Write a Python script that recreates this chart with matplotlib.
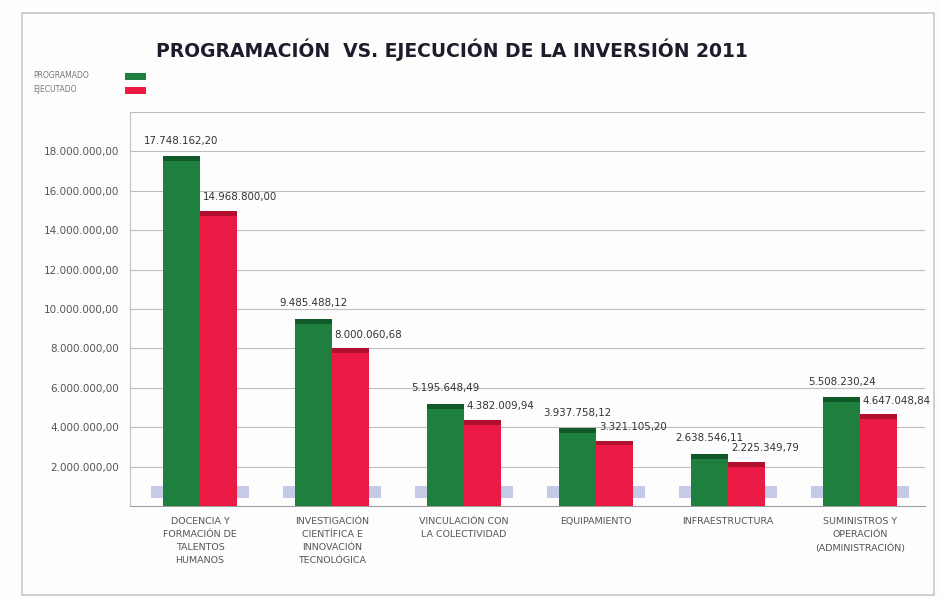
import matplotlib
matplotlib.use("Agg")
import matplotlib.pyplot as plt
from matplotlib.patches import Rectangle
import numpy as np

categories = ["DOCENCIA Y\nFORMACIÓN DE\nTALENTOS\nHUMANOS",
              "INVESTIGACIÓN\nCIENTÍFICA E\nINNOVACIÓN\nTECNOLÓGICA",
              "VINCULACIÓN CON\nLA COLECTIVIDAD",
              "EQUIPAMIENTO",
              "INFRAESTRUCTURA",
              "SUMINISTROS Y\nOPERACIÓN\n(ADMINISTRACIÓN)"]
programado = [17748162.20, 9485488.12, 5195648.49, 3937758.12, 2638546.11, 5508230.24]
ejecutado = [14968800.00, 8000060.68, 4382009.94, 3321105.20, 2225349.79, 4647048.84]
prog_labels = ["17.748.162,20", "9.485.488,12", "5.195.648,49", "3.937.758,12", "2.638.546,11", "5.508.230,24"]
ejec_labels = ["14.968.800,00", "8.000.060,68", "4.382.009,94", "3.321.105,20", "2.225.349,79", "4.647.048,84"]
yticks = [2e6, 4e6, 6e6, 8e6, 10e6, 12e6, 14e6, 16e6, 18e6]
ytick_labels = ["2.000.000,00", "4.000.000,00", "6.000.000,00", "8.000.000,00", "10.000.000,00",
                "12.000.000,00", "14.000.000,00", "16.000.000,00", "18.000.000,00"]

green = "#1e7f3e"
green_top = "#0f5a28"
red = "#ea1a44"
red_top = "#b0102e"

fig = plt.figure(figsize=(9.41, 5.99), dpi=100)
fig.patch.set_facecolor("#fdfdfd")
fig.patches.append(Rectangle((22/941, 4/599), 912/941, 582/599, transform=fig.transFigure,
                             fill=False, edgecolor="#c8c8c8", lw=1.2))

ax = fig.add_axes([130/941, 93/599, 795/941, 394/599])
ax.set_facecolor("#fdfdfd")
x = np.arange(len(categories))
w = 0.28

# floor
ax.bar(x, [-0.6e6]*len(x), width=0.74, bottom=1.0e6, color="#c5cbe6", edgecolor="none", zorder=1)

ax.bar(x - w/2, programado, width=w, color=green, edgecolor="none", zorder=3)
ax.bar(x + w/2, ejecutado, width=w, color=red, edgecolor="none", zorder=3)
cap = 0.25e6
ax.bar(x - w/2, [cap]*len(x), width=w, bottom=np.array(programado)-cap, color=green_top, edgecolor="none", zorder=4)
ax.bar(x + w/2, [cap]*len(x), width=w, bottom=np.array(ejecutado)-cap, color=red_top, edgecolor="none", zorder=4)

for i in range(len(x)):
    ax.text(x[i] - w/2, programado[i] + 0.55e6, prog_labels[i], ha="center", va="bottom",
            fontsize=7.4, color="#333333", zorder=5)
    ax.text(x[i] + 0.02, ejecutado[i] + 0.45e6, ejec_labels[i], ha="left", va="bottom",
            fontsize=7.4, color="#333333", zorder=5, clip_on=False)

ax.set_xlim(-0.53, 5.49)
ax.set_ylim(0, 20e6)
ax.set_yticks(yticks)
ax.set_yticklabels(ytick_labels, fontsize=7.5, color="#555555")
ax.set_xticks(x)
ax.set_xticklabels(categories, fontsize=6.8, color="#555555", linespacing=1.55)
ax.tick_params(axis="both", length=0, pad=8)
ax.yaxis.grid(True, color="#bdbdbd", lw=0.8)
ax.axhline(20e6, color="#bdbdbd", lw=0.8, zorder=0)
ax.set_axisbelow(True)
for s in ["top", "right"]:
    ax.spines[s].set_visible(False)
ax.spines["left"].set_color("#c0c0c0")
ax.spines["bottom"].set_color("#a0a0a0")

fig.text(452/941, 1 - 50/599, "PROGRAMACIÓN  VS. EJECUCIÓN DE LA INVERSIÓN 2011",
         ha="center", va="center", fontsize=13.5, fontweight="bold", color="#1c1c2a")

# legend
fig.text(33/941, 1 - 75/599, "PROGRAMADO", fontsize=5.5, color="#777777", va="center")
fig.text(33/941, 1 - 89/599, "EJECUTADO", fontsize=5.5, color="#777777", va="center")
fig.patches.append(Rectangle((125/941, 1 - 80/599), 21/941, 7/599, transform=fig.transFigure,
                             facecolor=green, edgecolor="none"))
fig.patches.append(Rectangle((125/941, 1 - 94/599), 21/941, 7/599, transform=fig.transFigure,
                             facecolor=red, edgecolor="none"))

fig.savefig("out.png", dpi=100, facecolor=fig.get_facecolor())
